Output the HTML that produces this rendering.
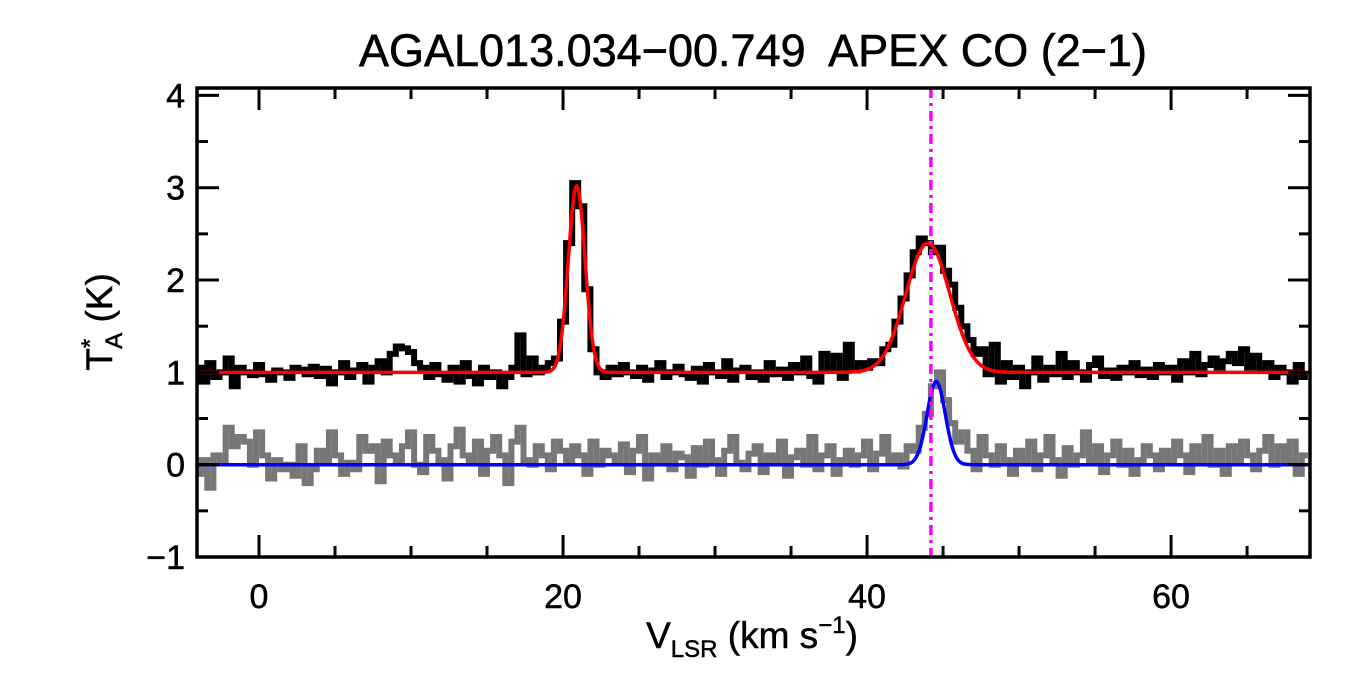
<!DOCTYPE html>
<html><head><meta charset="utf-8"><style>
body{margin:0;background:#fff;width:1350px;height:675px;overflow:hidden}
svg text{font-family:"Liberation Sans",sans-serif;fill:#000;white-space:pre}
</style></head><body>
<svg id="chart" width="1350" height="675" viewBox="0 0 1350 675" xmlns="http://www.w3.org/2000/svg">
<text x="753" y="66" font-size="45" text-anchor="middle" stroke="#000" stroke-width="0.6" xml:space="preserve">AGAL013.034−00.749  APEX CO (2−1)</text>
<g id="plot"></g>
<text x="752" y="648" font-size="37" text-anchor="middle" stroke="#000" stroke-width="0.5">V<tspan font-size="24" dy="9">LSR</tspan><tspan dy="-9"> (km s</tspan><tspan font-size="24" dy="-15">−1</tspan><tspan dy="15">)</tspan></text>
<text transform="translate(112,322) rotate(-90)" font-size="37" text-anchor="middle" stroke="#000" stroke-width="0.5">T<tspan font-size="24" dy="-14">*</tspan><tspan font-size="24" dx="-10" dy="24">A</tspan><tspan dy="-10"> (K)</tspan></text>
</svg>
<script>
const v0 = -4, dv = 0.4;
const observed = [1.05,0.90,1.10,0.95,1.00,1.15,0.85,1.05,1.00,0.97,
1.08,0.98,0.92,1.02,1.00,0.94,1.05,1.03,0.98,1.06,
0.96,1.04,0.88,1.00,1.10,0.95,1.02,1.08,0.90,1.05,
1.12,1.00,1.20,1.28,1.26,1.22,1.10,1.05,0.95,1.08,
0.98,0.92,1.05,0.90,1.10,0.96,0.88,1.05,0.95,1.00,
0.85,0.95,1.05,1.40,0.98,1.15,1.00,1.05,1.10,1.15,
1.55,2.40,3.05,2.80,1.90,1.25,1.00,0.95,1.05,0.98,
1.08,1.00,0.96,1.05,0.92,1.02,1.10,0.95,1.00,1.06,
0.98,0.94,1.04,0.90,1.08,1.00,0.96,1.12,0.92,1.02,
1.05,0.95,1.00,0.92,1.10,0.98,1.03,0.94,1.08,1.00,
1.15,0.96,0.90,1.20,1.05,1.18,0.94,1.30,1.02,1.10,
1.05,1.12,1.10,1.25,1.30,1.55,1.80,2.05,2.30,2.45,
2.40,2.30,2.35,2.10,1.95,1.70,1.50,1.35,1.20,1.25,
0.98,1.30,0.90,1.10,0.95,1.05,0.85,1.00,1.15,0.92,
1.05,0.98,1.20,0.95,1.10,1.00,0.92,1.08,1.15,0.96,
1.02,0.94,1.05,1.00,1.10,0.97,1.03,0.95,1.08,1.00,
1.05,0.92,1.12,1.00,1.20,0.98,1.08,1.15,1.05,1.12,
1.20,1.10,1.25,1.05,1.18,1.02,1.10,0.95,1.05,1.00,
0.90,1.08,0.95];
const residual = [-0.10,0.05,-0.25,0.10,0.02,0.40,0.20,0.30,0.25,0.00,
0.35,0.10,-0.15,0.05,-0.05,0.00,-0.12,0.20,-0.20,-0.05,
0.15,0.05,0.35,0.10,-0.10,0.02,-0.05,0.30,0.15,0.20,
-0.18,0.25,0.10,0.05,0.20,0.35,0.00,-0.08,0.30,0.15,
0.05,-0.15,0.20,0.38,0.10,0.05,0.25,-0.10,0.15,0.30,
0.10,-0.20,0.25,0.40,0.05,0.00,0.20,0.10,-0.05,0.25,
0.15,0.05,0.20,0.10,-0.10,0.25,0.00,0.15,0.10,0.05,
0.22,-0.08,0.15,0.30,-0.15,0.10,0.05,0.20,-0.05,0.12,
0.08,-0.12,0.18,0.00,0.25,0.05,-0.10,0.15,0.30,0.02,
-0.05,0.12,0.20,-0.08,0.10,0.05,0.25,-0.12,0.08,0.15,
0.00,0.30,-0.05,0.10,0.20,-0.10,0.05,0.15,0.00,0.10,
0.25,-0.05,0.12,0.30,0.05,0.10,-0.02,0.20,0.15,0.40,
0.55,0.85,1.00,0.70,0.45,0.25,0.35,0.15,-0.05,0.30,
0.10,0.00,0.20,0.05,-0.10,0.15,0.02,0.25,-0.05,0.10,
0.30,0.05,-0.12,0.18,0.00,0.10,0.35,0.05,0.20,-0.08,
0.10,0.25,0.00,0.15,-0.10,0.05,0.20,0.10,-0.05,0.15,
0.02,0.25,0.10,-0.08,0.20,0.05,0.30,0.00,0.15,-0.10,
0.20,0.05,0.25,0.10,-0.05,0.15,0.30,0.00,0.20,0.05,
0.25,-0.10,0.10];
const redBase = 1.0;
const redCenters = [20.9, 44.0];
const redAmps = [2.02, 1.40];
const redSigmas = [0.55, 1.45];
const blueCenters = [44.55];
const blueAmps = [0.9];
const blueSigmas = [0.6];
const markerV = 44.2;
const xTicks = [0, 20, 40, 60];
const yTicks = [-1, 0, 1, 2, 3, 4];

const X0=197, X1=1310, Y0=557, Y1=88;
const xmin=-4.08, xmax=69.14, ymin=-1, ymax=4.08;
const sx = v => X0 + (v - xmin) / (xmax - xmin) * (X1 - X0);
const sy = t => Y0 - (t - ymin) / (ymax - ymin) * (Y0 - Y1);
const NS='http://www.w3.org/2000/svg';
const g=document.getElementById('plot');
function mk(tag, attrs){const e=document.createElementNS(NS,tag);for(const k in attrs)e.setAttribute(k,attrs[k]);g.appendChild(e);return e;}
g.innerHTML='<clipPath id="clip"><rect x="197" y="88" width="1113" height="469"/></clipPath>';

function stepPath(vals){
  let d='';
  vals.forEach((t,i)=>{const v=v0+i*dv;const xa=sx(v-dv/2),xb=sx(v+dv/2),y=sy(t);
    d+=(i===0?'M':'L')+xa.toFixed(1)+','+y.toFixed(1)+'L'+xb.toFixed(1)+','+y.toFixed(1);});
  return d;
}
function gaussPath(base,cs,as,ss){
  let d='';
  for(let px=X0;px<=X1;px+=1){const v=xmin+(px-X0)/(X1-X0)*(xmax-xmin);let t=base;
    cs.forEach((c,k)=>{t+=as[k]*Math.exp(-0.5*((v-c)/ss[k])**2);});
    d+=(px===X0?'M':'L')+px+','+sy(t).toFixed(1);}
  return d;
}
let e;
e=mk('path',{d:stepPath(residual),fill:'none',stroke:'#777','stroke-width':6,'clip-path':'url(#clip)'});


e=mk('path',{d:stepPath(observed),fill:'none',stroke:'#000','stroke-width':6,'clip-path':'url(#clip)'});


e=mk('path',{d:gaussPath(redBase,redCenters,redAmps,redSigmas),fill:'none',stroke:'#f00','stroke-width':3.5});


e=mk('path',{d:gaussPath(0,blueCenters,blueAmps,blueSigmas),fill:'none',stroke:'#00f','stroke-width':3.5});


e=mk('line',{x1:sx(markerV),x2:sx(markerV),y1:Y1,y2:Y0,stroke:'#f0f','stroke-width':3.5,'stroke-dasharray':'10,5,3,5'});


e=mk('rect',{x:X0,y:Y1,width:X1-X0,height:Y0-Y1,fill:'none',stroke:'#000','stroke-width':3.5});


for(let v=0;v<=69;v+=5){ const maj=v%20===0, L=maj?22:11, x=sx(v);
  e=mk('line',{x1:x,x2:x,y1:Y0,y2:Y0-L,stroke:'#000','stroke-width':3});
  
  
  e=mk('line',{x1:x,x2:x,y1:Y1,y2:Y1+L,stroke:'#000','stroke-width':3});
  
  
}
for(let t=-1;t<=4;t+=0.5){ const maj=Number.isInteger(t), L=maj?22:11, y=sy(t);
  e=mk('line',{x1:X0,x2:X0+L,y1:y,y2:y,stroke:'#000','stroke-width':3});
  
  
  e=mk('line',{x1:X1,x2:X1-L,y1:y,y2:y,stroke:'#000','stroke-width':3});
  
  
}
xTicks.forEach(v=>{e=mk('text',{x:sx(v),y:608,'font-size':34,'text-anchor':'middle',stroke:'#000','stroke-width':0.5});e.textContent=String(v);
  
  });
yTicks.forEach(t=>{e=mk('text',{x:185,y:sy(t)+12,'font-size':34,'text-anchor':'end',stroke:'#000','stroke-width':0.5});e.textContent=t<0?'−'+(-t):String(t);
  
  });
</script>
</body></html>
